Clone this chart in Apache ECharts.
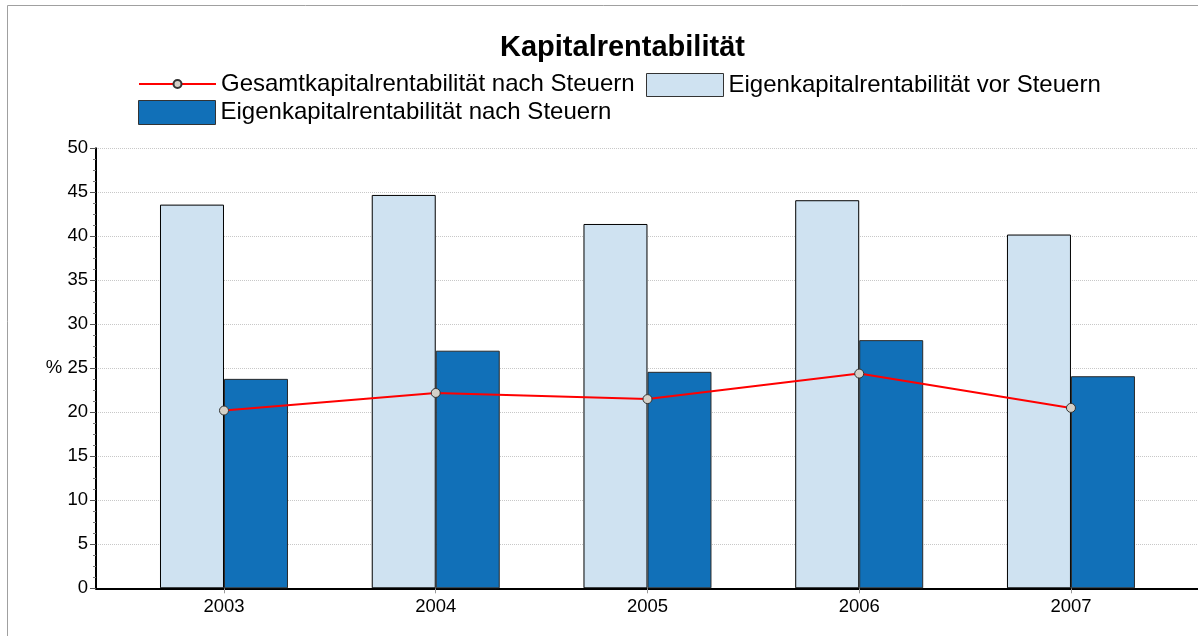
<!DOCTYPE html>
<html>
<head>
<meta charset="utf-8">
<script src="https://cdn.jsdelivr.net/npm/echarts@6/dist/echarts.min.js"></script>
<style>
  html, body { margin: 0; padding: 0; background: #fff; }
  #chart { width: 1198px; height: 636px; }
</style>
</head>
<body>
<div id="chart"></div>
<script>
// Daten (in %)
const years = [2003, 2004, 2005, 2006, 2007]
const ekVorSteuern = [43.6, 44.7, 41.4, 44.1, 40.2]
const ekNachSteuern = [23.8, 27.0, 24.6, 28.2, 24.1]
const gkNachSteuern = [20.2, 22.2, 21.5, 24.4, 20.5]

const nameGk = 'Gesamtkapitalrentabilität nach Steuern'
const nameEkVor = 'Eigenkapitalrentabilität vor Steuern'
const nameEkNach = 'Eigenkapitalrentabilität nach Steuern'

const font = 'Arial, "Liberation Sans", Helvetica, sans-serif'
const pair = (vals) => years.map((y, i) => [y, vals[i]])

const chart = echarts.init(document.getElementById('chart'), null, { renderer: 'canvas' })

const legendText = { fontSize: 24, lineHeight: 24, color: '#000', fontFamily: font }

const option = {
  backgroundColor: '#fff',
  animation: false,
  title: {
    text: 'Kapitalrentabilität',
    left: 500,
    top: 33,
    padding: 0,
    textStyle: { fontSize: 29, fontWeight: 'bold', color: '#000', fontFamily: font }
  },
  legend: [
    {
      data: [nameGk], left: 138, top: 72, padding: 0, itemWidth: 77, itemHeight: 10,
      textStyle: legendText
    },
    {
      data: [{ name: nameEkVor, icon: 'rect' }], left: 646, top: 73, padding: 0,
      itemWidth: 77, itemHeight: 23,
      itemStyle: { borderWidth: 1, borderColor: '#333' },
      textStyle: legendText
    },
    {
      data: [{ name: nameEkNach, icon: 'rect' }], left: 138, top: 100, padding: 0,
      itemWidth: 77, itemHeight: 24,
      itemStyle: { borderWidth: 1, borderColor: '#333' },
      textStyle: legendText
    }
  ],
  graphic: [{
    type: 'rect',
    shape: { x: 7.5, y: 5.5, width: 1300, height: 800 },
    style: { fill: 'none', stroke: '#a0a0a0', lineWidth: 1 },
    silent: true
  }],
  grid: { left: 96, right: 0, top: 148.3, bottom: 47.7 },
  xAxis: {
    type: 'value',
    min: 2002.3955,
    max: 2007.6,
    axisLine: { lineStyle: { color: '#000', width: 2 } },
    axisTick: { show: true, customValues: years, length: 5, lineStyle: { color: '#999' } },
    axisLabel: {
      customValues: years, margin: 9, fontSize: 18.5, color: '#000', fontFamily: font,
      formatter: v => String(v)
    },
    splitLine: { show: false }
  },
  yAxis: {
    type: 'value',
    min: 0,
    max: 50,
    interval: 5,
    axisLine: { show: true, lineStyle: { color: '#000', width: 2 } },
    axisTick: { show: true, length: 6, lineStyle: { color: '#555' } },
    minorTick: { show: true, splitNumber: 4, length: 3, lineStyle: { color: '#777' } },
    axisLabel: {
      margin: 8, fontSize: 18.5, color: '#000', fontFamily: font,
      formatter: v => v === 25 ? '% 25' : String(v)
    },
    splitLine: { show: true, lineStyle: { color: '#c8c8c8', type: 'dotted', width: 1 } }
  },
  series: [
    {
      name: nameEkVor,
      type: 'bar',
      data: pair(ekVorSteuern),
      barWidth: 64,
      barGap: '0%',
      itemStyle: { color: '#cfe2f1', borderColor: '#000', borderWidth: 1 }
    },
    {
      name: nameEkNach,
      type: 'bar',
      data: pair(ekNachSteuern),
      barWidth: 64,
      barGap: '0%',
      itemStyle: { color: '#1170b8', borderColor: '#2a2a2a', borderWidth: 1 }
    },
    {
      name: nameGk,
      type: 'line',
      data: pair(gkNachSteuern),
      z: 5,
      symbol: 'circle',
      symbolSize: 9,
      lineStyle: { color: '#ff0000', width: 2 },
      itemStyle: { color: '#d4d0c8', borderColor: '#333', borderWidth: 1 }
    }
  ]
}

chart.setOption(option)
</script>
</body>
</html>
